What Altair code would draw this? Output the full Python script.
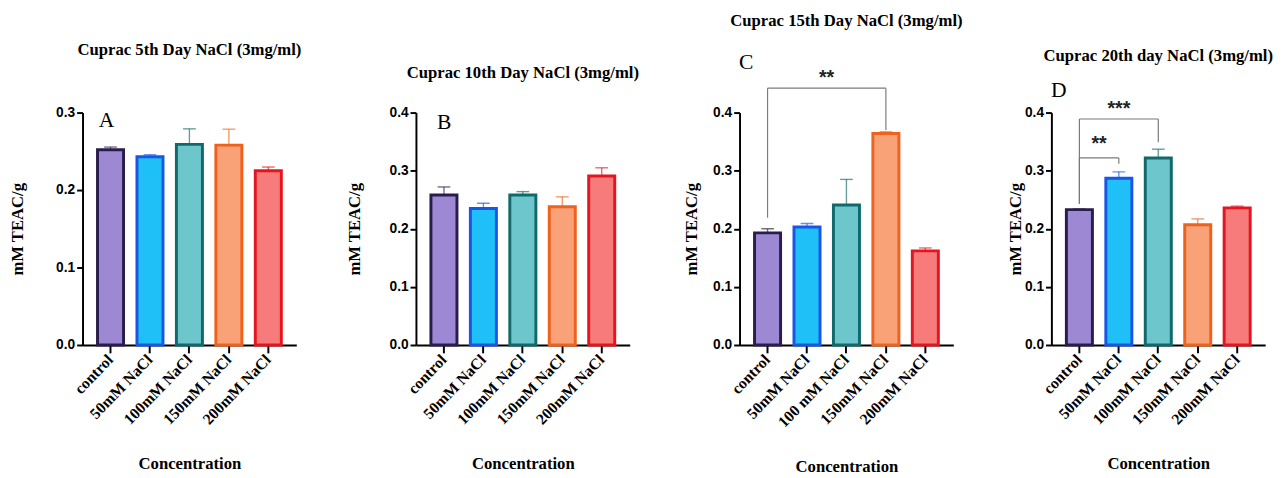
import altair as alt
import pandas as pd

SERIF = "Liberation Serif, Times New Roman, serif"
SANS = "Liberation Sans, Arial, sans-serif"

cats_std = ["control", "50mM NaCl", "100mM NaCl", "150mM NaCl", "200mM NaCl"]
cats_c = ["control", "50mM NaCl", "100 mM NaCl", "150mM NaCl", "200mM NaCl"]

mean_a = [0.252, 0.243, 0.259, 0.258, 0.225]
sem_a = [0.0035, 0.0026, 0.020, 0.0206, 0.0047]
mean_b = [0.258, 0.235, 0.258, 0.238, 0.291]
sem_b = [0.014, 0.009, 0.006, 0.017, 0.014]
mean_c = [0.193, 0.203, 0.241, 0.364, 0.162]
sem_c = [0.007, 0.006, 0.044, 0.003, 0.005]
mean_d = [0.233, 0.287, 0.322, 0.207, 0.236]
sem_d = [0.001, 0.011, 0.015, 0.010, 0.003]

fills = ["#9d88d4", "#1fc0f8", "#6cc6cc", "#f9a177", "#f77b7b"]
strokes = ["#2a1c4c", "#1a55e6", "#10696a", "#ef621d", "#e6141f"]

# significance brackets: (from, to, level, left leg bottom, right leg bottom)
br_c_from = ["control"]
br_c_to = ["150mM NaCl"]
br_c_level = [0.442]
br_c_low1 = [0.219]
br_c_low2 = [0.370]
star_c_text = ["**"]
star_c_cat = ["50mM NaCl"]
star_c_y = [0.468]
star_c_dx = [20]

br_d_from = ["control", "control"]
br_d_to = ["100mM NaCl", "50mM NaCl"]
br_d_level = [0.389, 0.322]
br_d_low1 = [0.243, 0.243]
br_d_low2 = [0.349, 0.312]
star_d_text = ["***", "**"]
star_d_cat = ["50mM NaCl", "control"]
star_d_y = [0.415, 0.355]
star_d_dx = [0, 20]

W, H = 218, 237


def panel(cats, means, sems, title, title_offset, letter, letter_y, letter_dx,
          ymax, ytitle_pad, br=None, stars=None):
    df = pd.DataFrame({
        "cat": cats,
        "idx": list(range(len(cats))),
        "mean": means,
        "top": [m + s for m, s in zip(means, sems)],
    })
    xscale = alt.Scale(domain=cats, paddingInner=0.34, paddingOuter=0.38)
    xaxis = alt.Axis(
        title="Concentration", labelAngle=314, labelAlign="right",
        labelBaseline="middle", labelFont=SERIF, labelFontWeight="bold",
        labelFontSize=16, labelColor="black", labelPadding=4,
        tickSize=8, tickWidth=2, tickColor="black", domainColor="black",
        domainWidth=2, titleFont=SERIF, titleFontSize=17,
        titleFontWeight="bold", titleColor="black", titlePadding=29,
    )
    ticks = [round(0.1 * i, 1) for i in range(int(round(ymax * 10)) + 1)]
    yscale = alt.Scale(domain=[0, ymax], nice=False)
    yaxis = alt.Axis(
        title="mM TEAC/g", values=ticks, format=".1f", labelFont=SANS,
        labelFontWeight="bold", labelFontSize=14, labelColor="black",
        labelPadding=2, tickSize=6, tickWidth=2, tickColor="black",
        domainColor="black", domainWidth=2, titleFont=SERIF,
        titleFontSize=17, titleFontWeight="bold", titleColor="black",
        titlePadding=ytitle_pad,
    )

    def xe(field):
        return alt.X(field, type="nominal", scale=xscale, axis=xaxis)

    def ye(field):
        return alt.Y(field, type="quantitative", scale=yscale, axis=yaxis)

    fill_sc = alt.Scale(domain=list(range(5)), range=fills)
    stroke_sc = alt.Scale(domain=list(range(5)), range=strokes)

    bars = alt.Chart(df).mark_bar(strokeWidth=3).encode(
        x=xe("cat"),
        y=ye("mean"),
        fill=alt.Fill("idx:N", scale=fill_sc, legend=None),
        stroke=alt.Stroke("idx:N", scale=stroke_sc, legend=None),
    )
    err = alt.Chart(df).mark_rule(strokeWidth=1.4, opacity=0.65).encode(
        x=xe("cat"), y=ye("mean"), y2="top:Q",
        stroke=alt.Stroke("idx:N", scale=stroke_sc, legend=None),
    )
    cap = alt.Chart(df).mark_tick(thickness=1.4, size=13, opacity=0.65).encode(
        x=xe("cat"), y=ye("top"),
        color=alt.Color("idx:N", scale=stroke_sc, legend=None),
    )
    ldf = pd.DataFrame({"cat": [cats[0]], "v": [letter_y], "t": [letter]})
    let = alt.Chart(ldf).mark_text(
        align="left", baseline="middle", dx=letter_dx, font=SERIF,
        fontSize=22, color="black",
    ).encode(x=xe("cat"), y=ye("v"), text="t:N")
    layers = [err, cap, bars, let]
    if br is not None:
        bdf = pd.DataFrame({"a": br[0], "b": br[1], "lv": br[2],
                            "l1": br[3], "l2": br[4]})
        rc = dict(color="#7a7a7a", strokeWidth=1.2)
        hline = alt.Chart(bdf).mark_rule(**rc).encode(
            x=xe("a"), x2="b:N", y=ye("lv"))
        leg1 = alt.Chart(bdf).mark_rule(**rc).encode(
            x=xe("a"), y=ye("lv"), y2="l1:Q")
        leg2 = alt.Chart(bdf).mark_rule(**rc).encode(
            x=xe("b"), y=ye("lv"), y2="l2:Q")
        layers += [hline, leg1, leg2]
    if stars is not None:
        for t, c, yv, dx in zip(*stars):
            sdf = pd.DataFrame({"cat": [c], "v": [yv], "t": [t]})
            layers.append(alt.Chart(sdf).mark_text(
                align="center", baseline="middle", dx=dx, dy=5,
                font=SANS, fontSize=20, fontWeight="bold", color="#222222",
            ).encode(x=xe("cat"), y=ye("v"), text="t:N"))
    return alt.layer(*layers).properties(
        width=W, height=H,
        title=alt.TitleParams(title, font=SERIF, fontSize=17,
                              fontWeight="bold", color="black",
                              offset=title_offset, anchor="middle"),
    )


pa = panel(cats_std, mean_a, sem_a, "Cuprac 5th Day NaCl (3mg/ml)", 48,
           "A", 0.29, -12, 0.3, 30)
pb = panel(cats_std, mean_b, sem_b, "Cuprac 10th Day NaCl (3mg/ml)", 24,
           "B", 0.384, -7, 0.4, 26)
pc = panel(cats_c, mean_c, sem_c, "Cuprac 15th Day NaCl (3mg/ml)", 22,
           "C", 0.486, -29, 0.4, 12,
           br=(br_c_from, br_c_to, br_c_level, br_c_low1, br_c_low2),
           stars=(star_c_text, star_c_cat, star_c_y, star_c_dx))
pd_ = panel(cats_std, mean_d, sem_d, "Cuprac 20th day NaCl (3mg/ml)", 15,
            "D", 0.438, -29, 0.4, 0,
            br=(br_d_from, br_d_to, br_d_level, br_d_low1, br_d_low2),
            stars=(star_d_text, star_d_cat, star_d_y, star_d_dx))

chart = alt.hconcat(pa, pb, pc, pd_, spacing=44).configure_view(
    stroke=None
).configure_axis(grid=False).properties(
    padding={"left": 0, "top": 0, "right": 0, "bottom": 0},
    background="white",
)

chart.save("out.html", embed_options={"renderer": "svg", "actions": False})
